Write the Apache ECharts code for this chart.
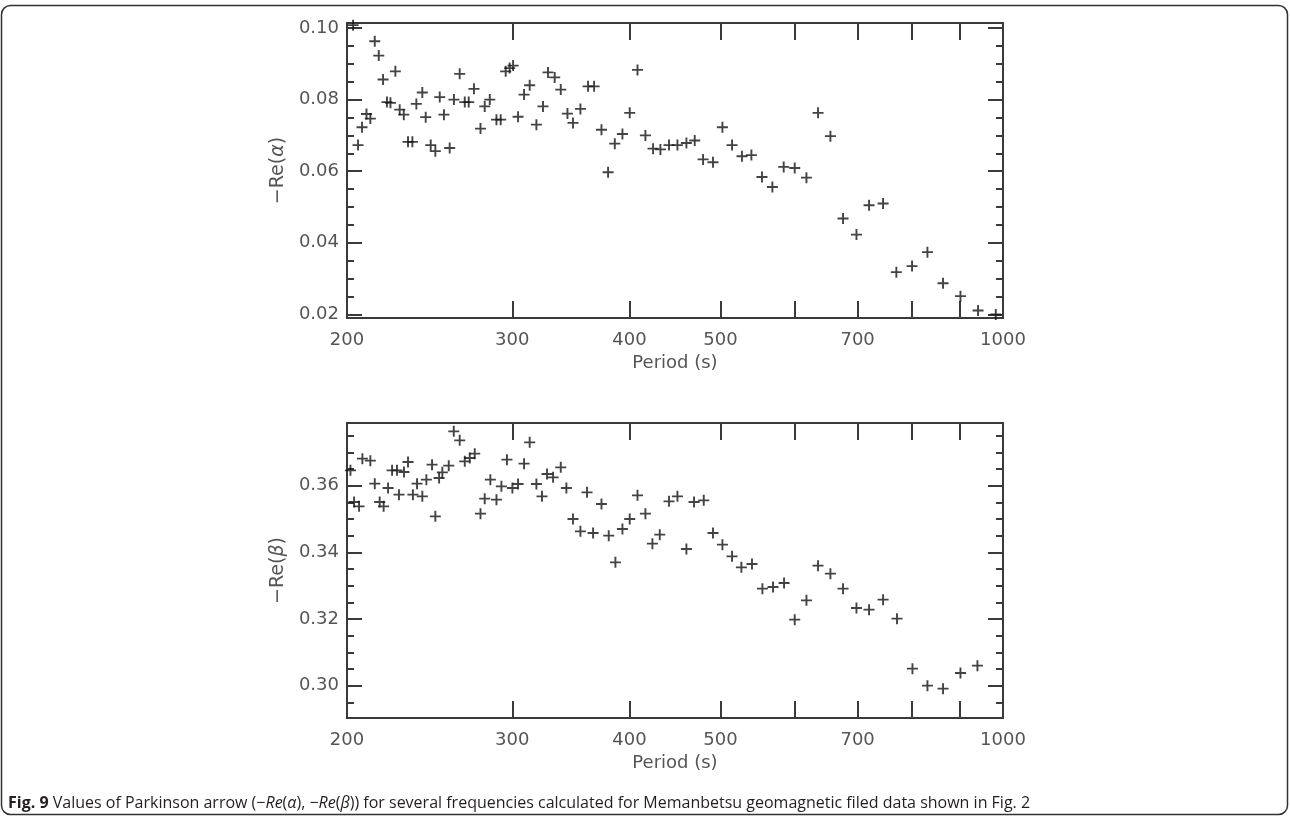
<!DOCTYPE html>
<html><head><meta charset="utf-8">
<script src="https://cdn.jsdelivr.net/npm/echarts@6/dist/echarts.min.js"></script>
<style>html,body{margin:0;padding:0;background:#fff}#c{width:1290px;height:817px}</style>
</head><body><div id="c"></div>
<script>
// ---- data ----
const periodsAlpha = [203,205.5,207.5,209.8,211.8,214.1,216.2,218.5,220.6,222.5,225.2,227.6,229.9,232.3,234.8,237.1,240.6,242.6,245.6,248.4,251.1,253.7,257.3,260.0,263.7,267.0,269.6,273.1,277.5,280.4,283.9,288.6,291.6,295.2,298.1,300.6,304.3,308.8,313.1,318.3,323.5,327.5,332.9,337.9,343.5,348.2,354.6,361.3,366.7,373.4,379.5,385.8,393.1,400.2,407.9,415.9,423.8,431.5,440.7,449.9,459.9,469.4,479.1,490.9,502.4,514.4,527.1,539.4,553.6,567.9,583.9,599.9,617.4,635.2,654.8,675.4,698.0,719.9,745.1,769.8,800.0,830.8,863.2,900.9,940.6,982.4];
const alphaValues = [0.1008,0.0673,0.0723,0.0760,0.0747,0.0963,0.0923,0.0856,0.0793,0.0791,0.0879,0.0772,0.0758,0.0682,0.0682,0.0788,0.0820,0.0751,0.0673,0.0656,0.0807,0.0758,0.0665,0.0800,0.0872,0.0793,0.0793,0.0830,0.0719,0.0781,0.0800,0.0744,0.0744,0.0879,0.0888,0.0895,0.0752,0.0814,0.0840,0.0730,0.0781,0.0876,0.0862,0.0828,0.0761,0.0735,0.0774,0.0837,0.0837,0.0716,0.0597,0.0677,0.0704,0.0763,0.0883,0.0700,0.0663,0.0661,0.0673,0.0673,0.0679,0.0686,0.0633,0.0625,0.0723,0.0673,0.0642,0.0645,0.0584,0.0556,0.0612,0.0609,0.0582,0.0763,0.0698,0.0468,0.0423,0.0505,0.0510,0.0318,0.0335,0.0374,0.0287,0.0251,0.0211,0.0200];
const periodsBeta = [201.7,203.5,206.0,207.7,211.8,214.1,216.7,218.8,221.2,223.4,226.1,227.2,230.0,232.3,235.1,237.5,240.6,243.0,246.4,248.4,250.7,252.7,256.7,259.9,263.7,267.0,270.3,273.6,277.5,280.4,284.3,288.6,292.1,296.1,300.1,304.3,308.8,313.1,318.3,322.7,326.7,331.6,337.9,342.6,348.2,354.6,360.4,365.8,373.4,380.1,386.4,393.1,400.2,407.9,415.9,423.1,430.8,440.7,449.9,459.9,468.6,479.9,490.9,502.4,514.4,526.3,540.2,554.2,568.8,584.4,599.9,617.4,635.2,654.8,675.4,698.0,719.9,745.1,771.0,800.8,830.8,863.2,900.9,939.2];
const betaValues = [0.3646,0.3551,0.3538,0.3681,0.3675,0.3606,0.3551,0.3538,0.3593,0.3646,0.3646,0.3573,0.3641,0.3671,0.3573,0.3606,0.3568,0.3618,0.3663,0.3508,0.3623,0.3640,0.3660,0.3763,0.3736,0.3673,0.3683,0.3696,0.3516,0.3561,0.3618,0.3558,0.3598,0.3678,0.3593,0.3605,0.3666,0.3730,0.3605,0.3568,0.3635,0.3625,0.3655,0.3593,0.3500,0.3463,0.3580,0.3458,0.3545,0.3450,0.3370,0.3470,0.3500,0.3571,0.3516,0.3426,0.3453,0.3553,0.3568,0.3410,0.3551,0.3556,0.3458,0.3423,0.3388,0.3355,0.3365,0.3291,0.3296,0.3308,0.3198,0.3256,0.3360,0.3336,0.3291,0.3233,0.3228,0.3258,0.3201,0.3051,0.3000,0.2991,0.3038,0.3060];
const xTickPeriods = [200,300,400,500,600,700,800,900,1000];
const xLabelPeriods = [200,300,400,500,700,1000];
const alphaMajorTicks = [0.02,0.04,0.06,0.08,0.10];
const alphaMinorTicks = [0.02,0.025,0.03,0.035,0.04,0.045,0.05,0.055,0.06,0.065,0.07,0.075,0.08,0.085,0.09,0.095,0.10];
const betaMajorTicks = [0.30,0.32,0.34,0.36];
const betaMinorTicks = [0.295,0.30,0.305,0.31,0.315,0.32,0.325,0.33,0.335,0.34,0.345,0.35,0.355,0.36,0.365,0.37,0.375];

// ---- styling ----
const FONT = 'DejaVu Sans';
const TXT = '#555';
const LINE = '#3a3a3a';
const lg = v => Math.log10(v);
const PLUS = 'path://M0,5L10,5M5,0L5,10';

function xAxes(gridIndex) {
  const base = {gridIndex, type:'value', min: lg(200), max: lg(1000), splitLine:{show:false},
    axisLine:{show:false, onZero:false}};
  const tick = {show:true, inside:true, length:17, lineStyle:{color:LINE, width:2}, customValues: xTickPeriods.map(lg)};
  return [
    Object.assign({}, base, {position:'bottom', name:'Period (s)', nameLocation:'middle', nameGap:36,
      nameTextStyle:{fontFamily:FONT, fontSize:18, color:TXT},
      axisTick: tick,
      axisLabel:{show:true, margin:13, fontFamily:FONT, fontSize:18, color:TXT,
        customValues: xLabelPeriods.map(lg), formatter: v => String(Math.round(Math.pow(10, v)))}}),
    Object.assign({}, base, {position:'top', axisTick: tick, axisLabel:{show:false}})
  ];
}
function yAxes(gridIndex, min, max, major, minor, name) {
  const base = {gridIndex, type:'value', min, max, splitLine:{show:false}, axisLine:{show:false, onZero:false}};
  const majorTick = {show:true, inside:true, length:15, lineStyle:{color:LINE, width:2}, customValues: major};
  const minorTick = {show:true, inside:true, length:7, lineStyle:{color:LINE, width:2}, customValues: minor};
  return [
    Object.assign({}, base, {position:'left', name, nameLocation:'middle', nameGap:52,
      nameTextStyle:{fontFamily:FONT, fontSize:19, color:TXT, rich:{i:{fontFamily:FONT, fontSize:19, color:TXT, fontStyle:'italic'}}},
      axisTick: majorTick,
      axisLabel:{show:true, margin:8, fontFamily:FONT, fontSize:18, color:TXT, customValues: major, formatter: v => v.toFixed(2)}}),
    Object.assign({}, base, {position:'left', axisTick: minorTick, axisLabel:{show:false}}),
    Object.assign({}, base, {position:'right', axisTick: majorTick, axisLabel:{show:false}}),
    Object.assign({}, base, {position:'right', axisTick: minorTick, axisLabel:{show:false}})
  ];
}
const gridBase = {show:true, borderColor:LINE, borderWidth:2, backgroundColor:'rgba(0,0,0,0)',
  left:347, width:656, height:295, containLabel:false, outerBoundsMode:'none'};
const markStyle = {color:'rgba(0,0,0,0)', borderColor:'#141414', borderWidth:1.9};

const chart = echarts.init(document.getElementById('c'), null, {renderer:'canvas'});
chart.setOption({
  animation:false,
  backgroundColor:'#fff',
  grid:[Object.assign({}, gridBase, {top:23}), Object.assign({}, gridBase, {top:423})],
  xAxis:[].concat(xAxes(0), xAxes(1)),
  yAxis:[].concat(
    yAxes(0, 0.019, 0.1014, alphaMajorTicks, alphaMinorTicks, '\u2212Re({i|\u03b1})'),
    yAxes(1, 0.2903, 0.3788, betaMajorTicks, betaMinorTicks, '\u2212Re({i|\u03b2})')),
  series:[
    {type:'scatter', xAxisIndex:0, yAxisIndex:0, silent:true, symbol:PLUS, symbolSize:11, itemStyle:markStyle,
      data: periodsAlpha.map((p, i) => [lg(p), alphaValues[i]])},
    {type:'scatter', xAxisIndex:2, yAxisIndex:4, silent:true, symbol:PLUS, symbolSize:11, itemStyle:markStyle,
      data: periodsBeta.map((p, i) => [lg(p), betaValues[i]])}
  ],
  graphic:[
    {type:'rect', silent:true, shape:{x:1.5, y:5.5, width:1286, height:809, r:9},
      style:{fill:'none', stroke:'#333', lineWidth:1.5}},
    {type:'text', silent:true, left:8, top:795,
      style:{text:'{b|Fig. 9} Values of Parkinson arrow (\u2212{i|Re}({i|\u03b1}), \u2212{i|Re}({i|\u03b2})) for several frequencies calculated for Memanbetsu geomagnetic filed data shown in Fig. 2',
        fontFamily:'Open Sans', fontSize:16, fill:'#231f20',
        rich:{b:{fontFamily:'Open Sans', fontSize:16, fontWeight:'bold', fill:'#231f20'},
              i:{fontFamily:'Open Sans', fontSize:16, fontStyle:'italic', fill:'#231f20'}}}}
  ]
});
</script></body></html>
